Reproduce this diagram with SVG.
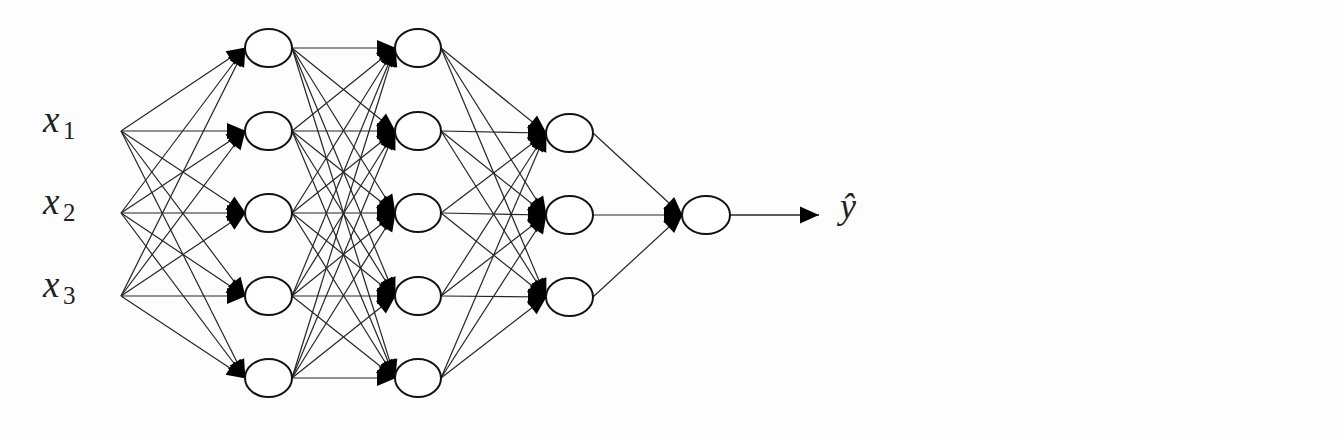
<svg xmlns="http://www.w3.org/2000/svg" width="1344" height="440" viewBox="0 0 1344 440">
<style>
.c{stroke:#262626;stroke-width:1.2;fill:none;marker-end:url(#ah)}
.n{fill:#fff;stroke:#111;stroke-width:2}
text{font-family:"Liberation Serif","DejaVu Serif",serif;fill:#222}
</style>
<defs>
<marker id="ah" markerUnits="userSpaceOnUse" markerWidth="20" markerHeight="18" refX="18" refY="8" orient="auto" overflow="visible">
<path d="M0,0 L19,8 L0,16 Z" fill="#000"/>
</marker>
<marker id="ah2" markerUnits="userSpaceOnUse" markerWidth="20" markerHeight="18" refX="19" refY="8.5" orient="auto" overflow="visible">
<path d="M0,0 L19,8.5 L0,17 Z" fill="#000"/>
</marker>
</defs>
<rect width="1344" height="440" fill="#fdfdfd"/>
<g id="connectors">
<line class="c" x1="121" y1="131" x2="245" y2="48"/>
<line class="c" x1="121" y1="131" x2="245" y2="131"/>
<line class="c" x1="121" y1="131" x2="245" y2="213"/>
<line class="c" x1="121" y1="131" x2="245" y2="296"/>
<line class="c" x1="121" y1="131" x2="245" y2="378"/>
<line class="c" x1="121" y1="213" x2="245" y2="48"/>
<line class="c" x1="121" y1="213" x2="245" y2="131"/>
<line class="c" x1="121" y1="213" x2="245" y2="213"/>
<line class="c" x1="121" y1="213" x2="245" y2="296"/>
<line class="c" x1="121" y1="213" x2="245" y2="378"/>
<line class="c" x1="121" y1="296" x2="245" y2="48"/>
<line class="c" x1="121" y1="296" x2="245" y2="131"/>
<line class="c" x1="121" y1="296" x2="245" y2="213"/>
<line class="c" x1="121" y1="296" x2="245" y2="296"/>
<line class="c" x1="121" y1="296" x2="245" y2="378"/>
<line class="c" x1="292" y1="48" x2="395" y2="48"/>
<line class="c" x1="292" y1="48" x2="395" y2="131"/>
<line class="c" x1="292" y1="48" x2="395" y2="213"/>
<line class="c" x1="292" y1="48" x2="395" y2="296"/>
<line class="c" x1="292" y1="48" x2="395" y2="378"/>
<line class="c" x1="292" y1="131" x2="395" y2="48"/>
<line class="c" x1="292" y1="131" x2="395" y2="131"/>
<line class="c" x1="292" y1="131" x2="395" y2="213"/>
<line class="c" x1="292" y1="131" x2="395" y2="296"/>
<line class="c" x1="292" y1="131" x2="395" y2="378"/>
<line class="c" x1="292" y1="213" x2="395" y2="48"/>
<line class="c" x1="292" y1="213" x2="395" y2="131"/>
<line class="c" x1="292" y1="213" x2="395" y2="213"/>
<line class="c" x1="292" y1="213" x2="395" y2="296"/>
<line class="c" x1="292" y1="213" x2="395" y2="378"/>
<line class="c" x1="292" y1="296" x2="395" y2="48"/>
<line class="c" x1="292" y1="296" x2="395" y2="131"/>
<line class="c" x1="292" y1="296" x2="395" y2="213"/>
<line class="c" x1="292" y1="296" x2="395" y2="296"/>
<line class="c" x1="292" y1="296" x2="395" y2="378"/>
<line class="c" x1="292" y1="378" x2="395" y2="48"/>
<line class="c" x1="292" y1="378" x2="395" y2="131"/>
<line class="c" x1="292" y1="378" x2="395" y2="213"/>
<line class="c" x1="292" y1="378" x2="395" y2="296"/>
<line class="c" x1="292" y1="378" x2="395" y2="378"/>
<line class="c" x1="441" y1="48" x2="546" y2="133"/>
<line class="c" x1="441" y1="48" x2="546" y2="215"/>
<line class="c" x1="441" y1="48" x2="546" y2="297"/>
<line class="c" x1="441" y1="131" x2="546" y2="133"/>
<line class="c" x1="441" y1="131" x2="546" y2="215"/>
<line class="c" x1="441" y1="131" x2="546" y2="297"/>
<line class="c" x1="441" y1="213" x2="546" y2="133"/>
<line class="c" x1="441" y1="213" x2="546" y2="215"/>
<line class="c" x1="441" y1="213" x2="546" y2="297"/>
<line class="c" x1="441" y1="296" x2="546" y2="133"/>
<line class="c" x1="441" y1="296" x2="546" y2="215"/>
<line class="c" x1="441" y1="296" x2="546" y2="297"/>
<line class="c" x1="441" y1="378" x2="546" y2="133"/>
<line class="c" x1="441" y1="378" x2="546" y2="215"/>
<line class="c" x1="441" y1="378" x2="546" y2="297"/>
<line class="c" x1="593" y1="133" x2="682" y2="215"/>
<line class="c" x1="593" y1="215" x2="682" y2="215"/>
<line class="c" x1="593" y1="297" x2="682" y2="215"/>
<line x1="730" y1="215" x2="819" y2="215" stroke="#262626" stroke-width="1.3" marker-end="url(#ah2)"/>
</g>
<g id="x1"><text x="43" y="132" font-size="37" font-style="italic">x</text><text x="63" y="139" font-size="25">1</text></g>
<g id="x2"><text x="43" y="214" font-size="37" font-style="italic">x</text><text x="63" y="221" font-size="25">2</text></g>
<g id="x3"><text x="43" y="297" font-size="37" font-style="italic">x</text><text x="63" y="304" font-size="25">3</text></g>
<g id="h1_1"><ellipse class="n" cx="268.5" cy="48" rx="23.5" ry="19"/></g>
<g id="h1_2"><ellipse class="n" cx="268.5" cy="131" rx="23.5" ry="19"/></g>
<g id="h1_3"><ellipse class="n" cx="268.5" cy="213" rx="23.5" ry="19"/></g>
<g id="h1_4"><ellipse class="n" cx="268.5" cy="296" rx="23.5" ry="19"/></g>
<g id="h1_5"><ellipse class="n" cx="268.5" cy="378" rx="23.5" ry="19"/></g>
<g id="h2_1"><ellipse class="n" cx="418" cy="48" rx="23" ry="19"/></g>
<g id="h2_2"><ellipse class="n" cx="418" cy="131" rx="23" ry="19"/></g>
<g id="h2_3"><ellipse class="n" cx="418" cy="213" rx="23" ry="19"/></g>
<g id="h2_4"><ellipse class="n" cx="418" cy="296" rx="23" ry="19"/></g>
<g id="h2_5"><ellipse class="n" cx="418" cy="378" rx="23" ry="19"/></g>
<g id="h3_1"><ellipse class="n" cx="569.5" cy="133" rx="23.5" ry="19"/></g>
<g id="h3_2"><ellipse class="n" cx="569.5" cy="215" rx="23.5" ry="19"/></g>
<g id="h3_3"><ellipse class="n" cx="569.5" cy="297" rx="23.5" ry="19"/></g>
<g id="out"><ellipse class="n" cx="706" cy="215" rx="24" ry="19"/></g>
<g id="yhat"><text x="840" y="218" font-size="36" font-style="italic">ŷ</text></g>
</svg>
